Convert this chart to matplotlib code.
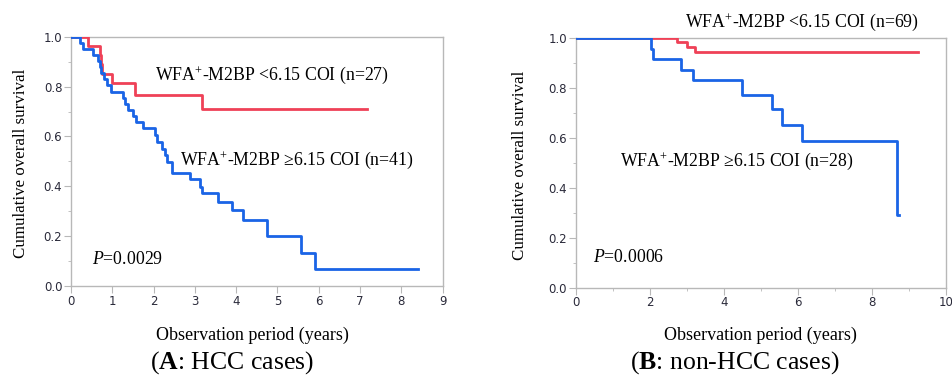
import matplotlib
matplotlib.use("Agg")
import matplotlib.pyplot as plt
from matplotlib.ticker import MultipleLocator, FormatStrFormatter

plt.rcParams['mathtext.fontset'] = 'custom'
plt.rcParams['mathtext.rm'] = 'Liberation Serif'
plt.rcParams['mathtext.it'] = 'Liberation Serif:italic'
plt.rcParams['mathtext.bf'] = 'Liberation Serif:bold'

# Panel A (HCC cases)
a_low_t = [0, 0.42, 0.70, 0.73, 0.76, 0.99, 1.55, 3.16, 7.16]
a_low_s = [1.0, 0.963, 0.926, 0.889, 0.852, 0.813, 0.766, 0.711, 0.711]
a_high_t = [0, 0.22, 0.30, 0.54, 0.66, 0.70, 0.73, 0.81, 0.86, 0.98, 1.27, 1.31,
            1.39, 1.51, 1.57, 1.75, 2.03, 2.07, 2.20, 2.28, 2.32, 2.44, 2.88,
            3.12, 3.16, 3.57, 3.89, 4.17, 4.74, 5.58, 5.91, 8.41]
a_high_s = [1.0, 0.976, 0.951, 0.927, 0.902, 0.878, 0.853, 0.829, 0.805, 0.780,
            0.756, 0.732, 0.707, 0.683, 0.658, 0.632, 0.605, 0.578, 0.551, 0.524,
            0.497, 0.455, 0.428, 0.398, 0.371, 0.337, 0.303, 0.265, 0.199, 0.133,
            0.066, 0.066]

# Panel B (non-HCC cases)
b_low_t = [0, 2.74, 3.01, 3.22, 9.25]
b_low_s = [1.0, 0.981, 0.964, 0.944, 0.944]
b_high_t = [0, 2.03, 2.10, 2.84, 3.16, 4.48, 5.29, 5.56, 6.10, 8.67, 8.74]
b_high_s = [1.0, 0.953, 0.913, 0.871, 0.831, 0.771, 0.713, 0.651, 0.587, 0.291, 0.291]

label_low = ["WFA$^{+}$-M2BP <6.15 COI (n=27)", "WFA$^{+}$-M2BP <6.15 COI (n=69)"]
label_high = ["WFA$^{+}$-M2BP \u22656.15 COI (n=41)", "WFA$^{+}$-M2BP \u22656.15 COI (n=28)"]
p_values = ["$P$=0.0029", "$P$=0.0006"]
captions = ["($\\mathbf{A}$: HCC cases)", "($\\mathbf{B}$: non-HCC cases)"]

RED = "#ef4157"
BLUE = "#1a64e6"
GRAY = "#b8b8b8"
serif = "Liberation Serif"

fig = plt.figure(figsize=(9.52, 3.76), dpi=100)
axA = fig.add_axes([0.0746, 0.240, 0.3904, 0.662])
axB = fig.add_axes([0.6047, 0.2348, 0.389, 0.665])

def style(ax, xmax, xmajor, xminor, ylab_x, xlab_x, xlab_y):
    ax.set_xlim(0, xmax)
    ax.set_ylim(0, 1.0)
    ax.xaxis.set_major_locator(MultipleLocator(xmajor))
    if xminor:
        ax.xaxis.set_minor_locator(MultipleLocator(xminor))
    ax.yaxis.set_major_locator(MultipleLocator(0.2))
    ax.yaxis.set_minor_locator(MultipleLocator(0.1))
    ax.yaxis.set_major_formatter(FormatStrFormatter('%.1f'))
    for s in ax.spines.values():
        s.set_color(GRAY)
        s.set_linewidth(1.0)
    ax.tick_params(which='both', direction='out', color=GRAY, labelsize=8.5,
                   labelcolor="#2a2a3a", pad=1.5)
    ax.tick_params(which='major', length=4.8)
    ax.tick_params(which='minor', length=2.4)
    ax.set_ylabel("Cumulative overall survival", fontfamily=serif, fontsize=12.2)
    ax.yaxis.label.set_va('center')
    ax.yaxis.set_label_coords(ylab_x, 0.49)
    ax.set_xlabel("Observation period (years)", fontfamily=serif, fontsize=13)
    ax.xaxis.label.set_va('center')
    ax.xaxis.set_label_coords(xlab_x, xlab_y)
    for lab in ax.get_xticklabels() + ax.get_yticklabels():
        lab.set_fontfamily("DejaVu Sans")

style(axA, 9, 1, None, -0.135, 0.488, -0.200)
style(axB, 10, 2, 1, -0.150, 0.5, -0.192)

axA.step(a_low_t, a_low_s, where='post', color=RED, lw=2, zorder=3)
axA.step(a_high_t, a_high_s, where='post', color=BLUE, lw=2, zorder=4)
axB.step(b_low_t, b_low_s, where='post', color=RED, lw=2, zorder=3)
axB.step(b_high_t, b_high_s, where='post', color=BLUE, lw=2, zorder=4)

fs = 12.8
axA.text(2.03, 0.846, label_low[0], fontfamily=serif, fontsize=fs, va='center', ha='left')
axA.text(2.64, 0.505, label_high[0], fontfamily=serif, fontsize=fs, va='center', ha='left')
axA.text(0.5, 0.107, p_values[0], fontfamily=serif, fontsize=fs, va='center', ha='left')

axB.text(2.95, 1.064, label_low[1], fontfamily=serif, fontsize=fs, va='center', ha='left', clip_on=False)
axB.text(1.2, 0.508, label_high[1], fontfamily=serif, fontsize=fs, va='center', ha='left')
axB.text(0.46, 0.119, p_values[1], fontfamily=serif, fontsize=fs, va='center', ha='left')

fig.text(0.2434, 0.036, captions[0], fontfamily=serif, fontsize=18.5, ha='center', va='center')
fig.text(0.772, 0.036, captions[1], fontfamily=serif, fontsize=18.5, ha='center', va='center')

fig.savefig("out.png", dpi=100)
